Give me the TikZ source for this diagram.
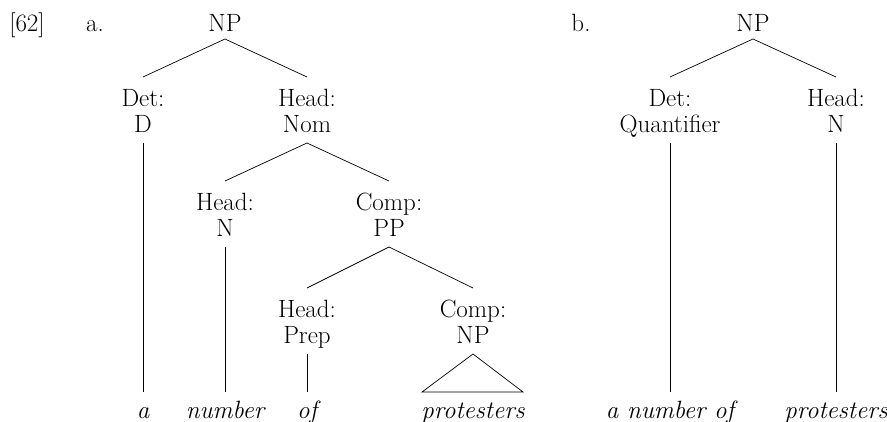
\documentclass[tikz,border=0pt]{standalone}
\newcommand{\tlab}[2]{\rule{0pt}{30pt}#1\\#2\rule[-10pt]{0pt}{10pt}}
\begin{document}
\begin{tikzpicture}[x=1pt, y=-1pt,
  every node/.style={inner sep=0pt, outer sep=0pt, font=\fontsize{25}{26}\selectfont},
  root/.style={anchor=base, text depth=7pt},
  cat/.style={anchor=north, align=center},
  leaf/.style={anchor=north, text height=26pt, font=\fontsize{25}{26}\selectfont\itshape},
  br/.style={line width=0.7pt}]
	\useasboundingbox (0,0) rectangle (887,422);

	% tree a
	\node [anchor=base] (ex) at (27,32) {[62]};
	\node [anchor=base] (sa) at (95,32) {a.};
	\node [root] (np) at (225,32) {NP};
	\node [cat] (det) at (143,77) {\tlab{Det:}{D}};
	\node [cat] (nom) at (307,77) {\tlab{Head:}{Nom}};
	\node [cat] (hn) at (225,181) {\tlab{Head:}{N}};
	\node [cat] (cpp) at (389,181) {\tlab{Comp:}{PP}};
	\node [cat] (hprep) at (307,288) {\tlab{Head:}{Prep}};
	\node [cat] (cnp) at (473,288) {\tlab{Comp:}{NP}};
	\node [leaf] (wa) at (143,392) {a};
	\node [leaf] (wnum) at (225,392) {number};
	\node [leaf] (wof) at (307,392) {of};
	\node [leaf] (wprot) at (473,392) {protesters};
	\coordinate (tl) at ([xshift=-51pt]wprot.north);
	\coordinate (tr) at ([xshift=50pt]wprot.north);

	\path[br] (np.south) edge (det.north);
	\path[br] (np.south) edge (nom.north);
	\path[br] (det.south) edge (wa.north);
	\path[br] (nom.south) edge (hn.north);
	\path[br] (nom.south) edge (cpp.north);
	\path[br] (hn.south) edge (wnum.north);
	\path[br] (cpp.south) edge (hprep.north);
	\path[br] (cpp.south) edge (cnp.north);
	\path[br] (hprep.south) edge (wof.north);
	\draw[br] (cnp.south) -- (tl) -- (tr) -- cycle;

	% tree b
	\node [anchor=base] (sb) at (581,32) {b.};
	\node [root] (npb) at (753,32) {NP};
	\node [cat] (detq) at (670,77) {\tlab{Det:}{Quantifier}};
	\node [cat] (headn) at (836,77) {\tlab{Head:}{N}};
	\node [leaf] (wanum) at (670,392) {a number of};
	\node [leaf] (wprotb) at (836,392) {protesters};

	\path[br] (npb.south) edge (detq.north);
	\path[br] (npb.south) edge (headn.north);
	\path[br] (detq.south) edge (wanum.north);
	\path[br] (headn.south) edge (wprotb.north);
\end{tikzpicture}
\end{document}
